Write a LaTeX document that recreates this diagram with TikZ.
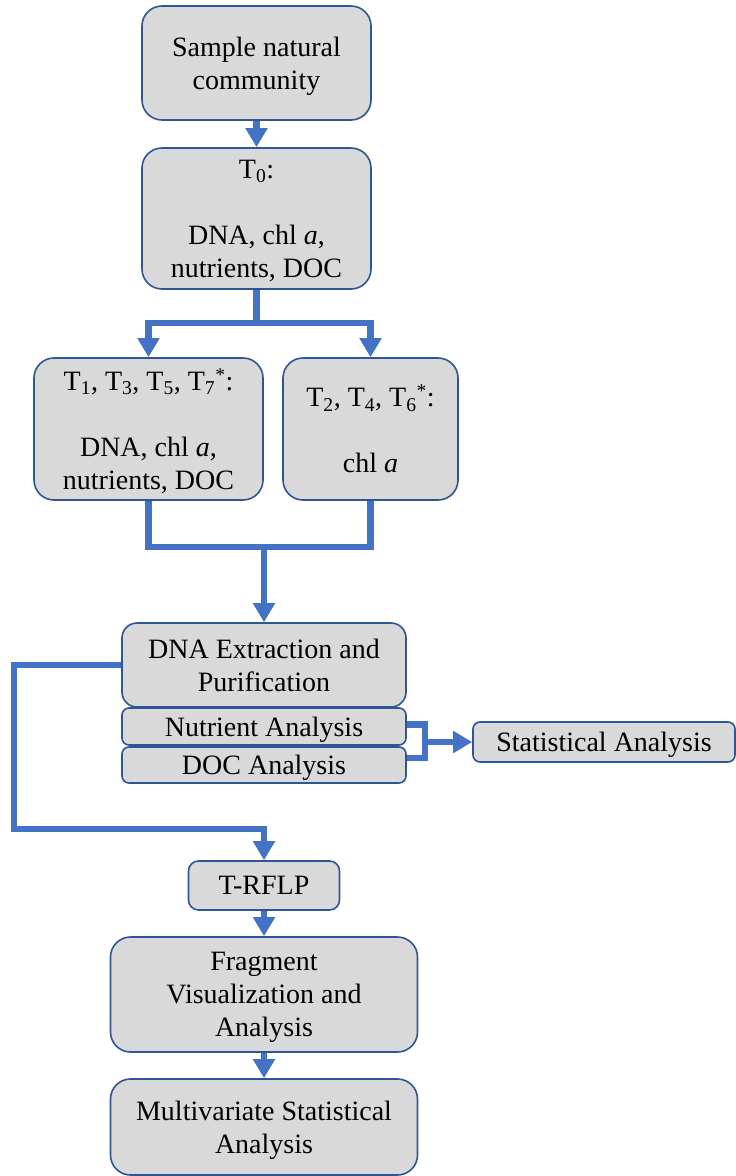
\documentclass[tikz,border=0pt]{standalone}
\usepackage{fontspec}
\setmainfont{Liberation Serif}
\usepackage{xcolor}
\usetikzlibrary{arrows.meta}
\definecolor{flowblue}{HTML}{4472C4}
\definecolor{edgeblue}{HTML}{2F5597}
\definecolor{boxgray}{HTML}{D9D9D9}

\begin{document}
\begin{tikzpicture}[x=1pt, y=-1pt,
  stepbox/.style={draw=edgeblue, fill=boxgray, line width=1.6pt, align=center, inner sep=0pt, text depth=0pt, font=\fontsize{28}{33}\selectfont},
  flow/.style={draw=flowblue, line width=6.5pt},
  flowarrow/.style={flow, -{Triangle[width=21pt,length=19pt]}}]
  \useasboundingbox (0,0) rectangle (736,1176);
  % boxes
  \node[stepbox, rounded corners=20pt, minimum width=229pt, minimum height=114pt] (sample) at (256.5,63) {Sample natural\\community};
  \node[stepbox, rounded corners=20pt, minimum width=229pt, minimum height=141pt] (tzero) at (256.5,218.5) {T\textsubscript{0}:\\\strut\\DNA, chl \textit{a},\\nutrients, DOC};
  \node[stepbox, rounded corners=20pt, minimum width=229pt, minimum height=142pt] (todd) at (148.5,429) {T\textsubscript{1}, T\textsubscript{3}, T\textsubscript{5}, T\textsubscript{7}\textsuperscript{*}:\\\strut\\DNA, chl \textit{a},\\nutrients, DOC};
  \node[stepbox, rounded corners=20pt, minimum width=175pt, minimum height=142pt] (teven) at (370.5,429) {T\textsubscript{2}, T\textsubscript{4}, T\textsubscript{6}\textsuperscript{*}:\\\strut\\chl \textit{a}};
  \node[stepbox, rounded corners=15pt, minimum width=284pt, minimum height=84pt] (dna) at (264,665) {DNA Extraction and\\Purification};
  \node[stepbox, rounded corners=7pt, minimum width=284pt, minimum height=37pt] (nutr) at (264,726.5) {Nutrient Analysis};
  \node[stepbox, rounded corners=7pt, minimum width=284pt, minimum height=36pt] (doc) at (264,765) {DOC Analysis};
  \node[stepbox, rounded corners=7pt, minimum width=262pt, minimum height=40pt] (stat) at (604,742) {Statistical Analysis};
  \node[stepbox, rounded corners=10pt, minimum width=151pt, minimum height=49pt] (trflp) at (264,885.5) {T-RFLP};
  \node[stepbox, rounded corners=20pt, minimum width=307pt, minimum height=115pt] (frag) at (264,994.5) {Fragment\\Visualization and\\Analysis};
  \node[stepbox, rounded corners=20pt, minimum width=307pt, minimum height=96pt] (multi) at (264,1127) {Multivariate Statistical\\Analysis};
  % connectors
  \coordinate (fork) at (256.5,323);
  \coordinate (join) at (264,547);
  \coordinate (brk) at (425,742);
  \coordinate (loopL) at (14,829);
  \draw[flowarrow] (sample) -- (tzero);
  \draw[flow] (tzero.south) -- (fork);
  \draw[flow, {Triangle[width=21pt,length=19pt]}-{Triangle[width=21pt,length=19pt]}] (todd.north) |- (fork) -| (teven.north);
  \draw[flow] (todd.south) |- (join) -| (teven.south);
  \draw[flowarrow] (join) -- (dna.north);
  \draw[flow] ([yshift=2pt]nutr.east) -| (brk) |- ([yshift=7pt]doc.east);
  \draw[flowarrow] (brk) -- (stat.west);
  \draw[flowarrow] (dna.west) -| (loopL) -| (trflp.north);
  \draw[flowarrow] (trflp) -- (frag);
  \draw[flowarrow] (frag) -- (multi);
\end{tikzpicture}
\end{document}
